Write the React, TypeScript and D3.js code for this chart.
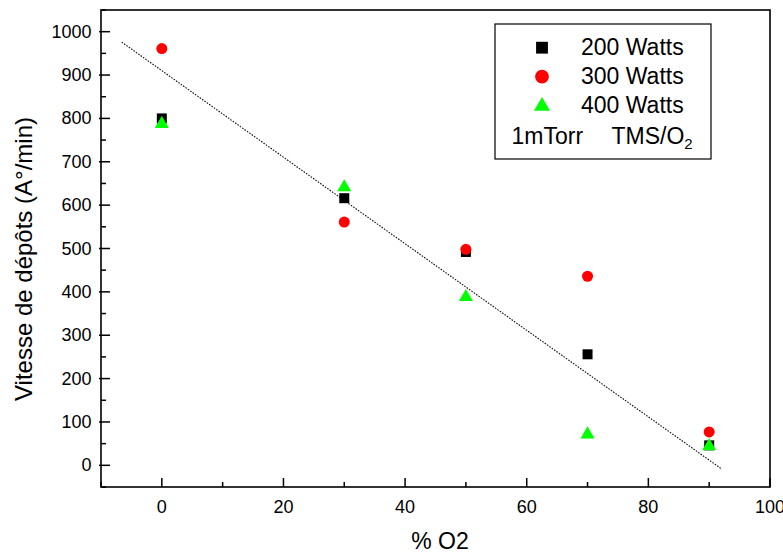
import React from 'react';
import * as d3 from 'd3';

const W = 783;
const H = 554;

const oxygen = [0, 30, 50, 70, 90];
const watts200 = [800, 616, 492, 256, 46];
const watts300 = [961, 561, 498, 436, 77];
const watts400 = [790, 644, 391, 74, 47];
const fitX = [-6.6, 92.1];
const fitY = [976, -9];
const xTicks = [0, 20, 40, 60, 80, 100];
const xMinor = [-10, 10, 30, 50, 70, 90];
const yTicks = [0, 100, 200, 300, 400, 500, 600, 700, 800, 900, 1000];
const yMinor = [-50, 50, 150, 250, 350, 450, 550, 650, 750, 850, 950, 1050];
const legendLabels = ['200 Watts', '300 Watts', '400 Watts'];
const colors = ['#000000', '#ff0000', '#00ff00'];

const FONT = '"Liberation Sans", Arial, Helvetica, sans-serif';

export default function App() {
  const L = 101, R = 770, T = 10, B = 487;
  const x = d3.scaleLinear().domain([-10, 100]).range([L, R]);
  const y = d3.scaleLinear().domain([-50, 1050]).range([B, T]);

  const sq = d3.symbol().type(d3.symbolSquare).size(100)() as string;
  const ci = d3.symbol().type(d3.symbolCircle).size(95)() as string;
  const tr = d3.symbol().type(d3.symbolTriangle).size(85)() as string;
  const sqL = d3.symbol().type(d3.symbolSquare).size(140)() as string;
  const ciL = d3.symbol().type(d3.symbolCircle).size(150)() as string;
  const trL = d3.symbol().type(d3.symbolTriangle).size(112)() as string;

  const series = [
    { vals: watts200, path: sq, lpath: sqL, color: colors[0], dy: 0 },
    { vals: watts300, path: ci, lpath: ciL, color: colors[1], dy: 0 },
    { vals: watts400, path: tr, lpath: trL, color: colors[2], dy: 1.2 },
  ];

  const fitLine = d3.line<number>()
    .x((_, i) => x(fitX[i]))
    .y((d) => y(d))(fitY) as string;

  const legX = 495, legY = 24, legW = 216, legH = 135;
  const rowY = [47.7, 76.7, 105];

  return (
    <svg width={W} height={H} style={{ position: 'absolute', left: 0, top: 0, background: '#fff' }} fontFamily={FONT}>
      <rect x={0} y={0} width={W} height={H} fill="#fff" />
      {/* fit line */}
      <path d={fitLine} stroke="#111" strokeWidth={1.1} strokeDasharray="1.6,1.3" fill="none" />
      {/* markers */}
      {series.map((s, si) => (
        <g key={si}>
          {s.vals.map((v, i) => (
            <path key={i} d={s.path} fill={s.color} transform={`translate(${x(oxygen[i])},${y(v) + s.dy})`} />
          ))}
        </g>
      ))}
      {/* frame */}
      <rect x={L} y={T} width={R - L} height={B - T} fill="none" stroke="#000" strokeWidth={1.6} />
      {/* x ticks */}
      {xTicks.map((t) => (
        <g key={'xt' + t}>
          <line x1={x(t)} x2={x(t)} y1={B} y2={B - 9} stroke="#000" strokeWidth={1.5} />
          <text x={x(t)} y={513} fontSize={18} textAnchor="middle" fill="#000">{t}</text>
        </g>
      ))}
      {xMinor.map((t) => (
        <line key={'xm' + t} x1={x(t)} x2={x(t)} y1={B} y2={B - 5} stroke="#000" strokeWidth={1.5} />
      ))}
      {/* y ticks */}
      {yTicks.map((t) => (
        <g key={'yt' + t}>
          <line x1={L - 2} x2={L + 9} y1={y(t)} y2={y(t)} stroke="#000" strokeWidth={1.5} />
          <text x={91.5} y={y(t) + 6} fontSize={18} textAnchor="end" fill="#000">{t}</text>
        </g>
      ))}
      {yMinor.map((t) => (
        <line key={'ym' + t} x1={L} x2={L + 5} y1={y(t)} y2={y(t)} stroke="#000" strokeWidth={1.5} />
      ))}
      {/* axis titles */}
      <text x={440} y={549} fontSize={23} textAnchor="middle" fill="#000">% O2</text>
      <text transform={`translate(32,259) rotate(-90)`} fontSize={24} textAnchor="middle" fill="#000">Vitesse de dépôts (A°/min)</text>
      {/* legend */}
      <rect x={legX} y={legY} width={legW} height={legH} fill="#fff" stroke="#000" strokeWidth={1.2} />
      {series.map((s, i) => (
        <g key={'lg' + i}>
          <path d={s.lpath} fill={s.color} transform={`translate(542,${rowY[i] + s.dy})`} />
          <text x={581} y={rowY[i] + 7.5} fontSize={23} fill="#000">{legendLabels[i]}</text>
        </g>
      ))}
      <text x={511.5} y={144} fontSize={23} fill="#000">1mTorr</text>
      <text x={611.5} y={144} fontSize={23} fill="#000">
        TMS/O<tspan fontSize={15} dy={5}>2</tspan>
      </text>
    </svg>
  );
}
